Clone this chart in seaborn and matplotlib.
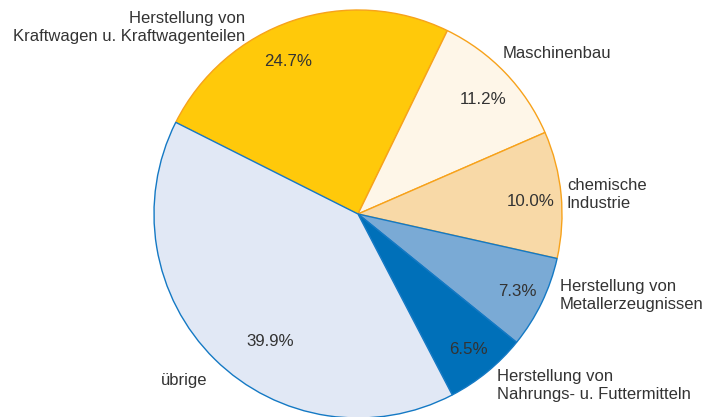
import matplotlib
matplotlib.use("Agg")
import matplotlib.pyplot as plt
import seaborn as sns
import numpy as np

# data
labels = ["Herstellung von\nKraftwagen u. Kraftwagenteilen",
          "Maschinenbau",
          "chemische\nIndustrie",
          "Herstellung von\nMetallerzeugnissen",
          "Herstellung von\nNahrungs- u. Futtermitteln",
          "übrige"]
shares = [24.7, 11.2, 10.0, 7.3, 6.5, 39.9]
fill_colors = ["#FFC90A", "#FEF6E8", "#F8D9A7", "#7AAAD5", "#0070B9", "#E1E8F5"]
edge_colors = ["#F7A21B", "#F7A21B", "#F7A21B", "#1479C4", "#1479C4", "#1479C4"]

sns.set_theme(style="white")
plt.rcParams["font.family"] = ["Liberation Sans", "DejaVu Sans"]

W, H = 706, 417
cx, cy, r = 358, 214, 204
fig = plt.figure(figsize=(W / 100, H / 100), dpi=100)
ax = fig.add_axes([(cx - r) / W, (H - cy - r) / H, 2 * r / W, 2 * r / H])

wedges, _ = ax.pie(shares, colors=fill_colors, startangle=153.3,
                   counterclock=False, wedgeprops=dict(linewidth=1.0))
for w, ec in zip(wedges, edge_colors):
    w.set_edgecolor(ec)

ax.set_xlim(-1, 1)
ax.set_ylim(-1, 1)
ax.axis("off")


def to_data(px, py):
    return (px - cx) / r, (cy - py) / r


# percentage labels inside the wedges
pct_pos = [(288, 62), (483, 100), (531, 202), (517, 292), (468, 349), (270, 341)]
for v, (px, py) in zip(shares, pct_pos):
    x, y = to_data(px, py)
    ax.text(x, y, f"{v:.1f}%", ha="center", va="center", fontsize=12.2,
            color="#333333")

# outside labels: pixel anchor and alignment
label_pos = [(245, 28, "right"), (503, 53, "left"), (567, 195, "left"),
             (560, 296, "left"), (497, 386, "left"), (161, 381, "left")]
for lab, (px, py, ha) in zip(labels, label_pos):
    x, y = to_data(px, py)
    ax.text(x, y, lab, ha=ha, va="center", multialignment=ha, fontsize=12,
            color="#333333", linespacing=1.25, clip_on=False)

fig.savefig("out.png", dpi=100)
